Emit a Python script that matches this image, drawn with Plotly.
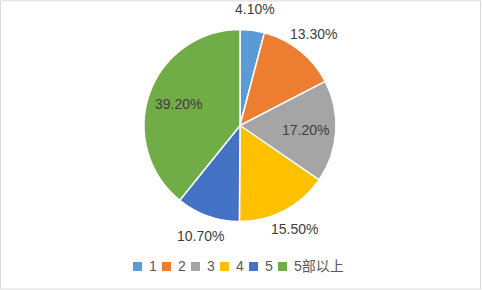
import math
import plotly.graph_objects as go

categories = ["1", "2", "3", "4", "5", "5部以上"]
values = [4.10, 13.30, 17.20, 15.50, 10.70, 39.20]
colors = ["#5B9BD5", "#ED7D31", "#A5A5A5", "#FFC000", "#4472C4", "#70AD47"]
label_inside = [False, False, True, False, False, True]

W, H = 482, 290
cx, cy, r = 240, 125.5, 96
FONT = "Liberation Sans, Noto Sans CJK SC, sans-serif"

fig = go.Figure(go.Pie(
    labels=categories,
    values=values,
    sort=False,
    direction="clockwise",
    rotation=0,
    marker=dict(colors=colors, line=dict(color="white", width=1.5)),
    textinfo="none",
    hoverinfo="label+value",
    showlegend=False,
    domain=dict(x=[(cx - r) / W, (cx + r) / W], y=[(H - cy - r) / H, (H - cy + r) / H]),
))

annotations = []
total = sum(values)
cum = 0.0
for v, inside in zip(values, label_inside):
    mid = (cum + v / 2) / total * 2 * math.pi
    cum += v
    rr = r * (0.68 if inside else 1.22)
    px = cx + rr * math.sin(mid)
    py = cy - rr * math.cos(mid)
    annotations.append(dict(x=px / W, y=1 - py / H, xref="paper", yref="paper",
                            text=f"{v:.2f}%", showarrow=False, xanchor="center", yanchor="middle",
                            font=dict(family=FONT, size=14, color="#404040")))

shapes = [dict(type="rect", xref="paper", yref="paper", x0=0.001, y0=0.003, x1=0.997, y1=0.997,
               line=dict(color="#D9D9D9", width=1))]

# legend (drawn manually for Excel-like compact spacing)
leg_x0, leg_step, leg_y, sq = 133, 29, 266.5, 9
for i, (cat, col) in enumerate(zip(categories, colors)):
    lx = leg_x0 + i * leg_step
    shapes.append(dict(type="rect", xref="paper", yref="paper",
                       x0=lx / W, x1=(lx + sq) / W,
                       y0=1 - (leg_y + sq / 2) / H, y1=1 - (leg_y - sq / 2) / H,
                       fillcolor=col, line=dict(width=0)))
    annotations.append(dict(x=(lx + 14) / W, y=1 - (leg_y - 0.5) / H, xref="paper", yref="paper",
                            text=cat, showarrow=False, xanchor="left", yanchor="middle",
                            font=dict(family=FONT, size=14, color="#595959")))

fig.update_layout(
    width=W, height=H,
    margin=dict(l=0, r=0, t=0, b=0),
    paper_bgcolor="white",
    font=dict(family=FONT, size=13, color="#595959"),
    shapes=shapes,
    annotations=annotations,
)

fig.write_html("out.html")
